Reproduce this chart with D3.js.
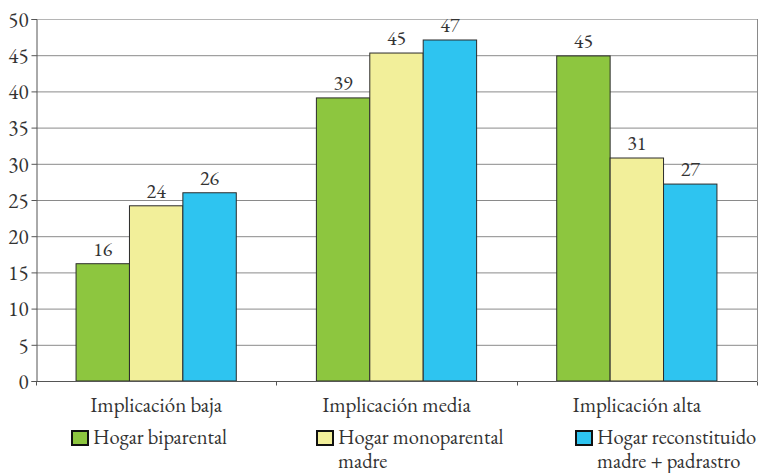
<!DOCTYPE html>
<html>
<head>
<meta charset="utf-8">
<script src="https://cdn.jsdelivr.net/npm/d3@7"></script>
<style>
  html, body { margin: 0; padding: 0; background: #fff; }
</style>
</head>
<body>
<svg id="chart" width="765" height="473"></svg>
<script>
const categories = ["Implicación baja", "Implicación media", "Implicación alta"];
const seriesNames = ["Hogar biparental", "Hogar monoparental madre", "Hogar reconstituido madre + padrastro"];
const legendLines = [["Hogar biparental"], ["Hogar monoparental", "madre"], ["Hogar reconstituido", "madre + padrastro"]];
const biparental = [16.2, 39.1, 44.9];
const monoparental = [24.2, 45.3, 30.8];
const reconstituido = [26.0, 47.1, 27.2];
const valueLabels = [[16, 39, 45], [24, 45, 31], [26, 47, 27]];
const yTicks = [0, 5, 10, 15, 20, 25, 30, 35, 40, 45, 50];
const colors = ["#8dc63f", "#f2ef9a", "#2ec4f0"];

const series = [biparental, monoparental, reconstituido];
const FONT = '"EB Garamond", "Liberation Serif", serif';
const TXT = "#333";

const svg = d3.select("#chart");
const mLeft = 36, mRight = 757, mTop = 19, mBottom = 381;

const x = d3.scaleBand().domain(categories).range([mLeft, mRight]).paddingInner(1/3).paddingOuter(1/6);
const xInner = d3.scaleBand().domain(d3.range(series.length)).range([0, x.bandwidth()]);
const y = d3.scaleLinear().domain([0, 50]).range([mBottom, mTop]);

// gridlines
svg.append("g").selectAll("line").data(yTicks.filter(d => d > 0)).join("line")
  .attr("x1", mLeft).attr("x2", mRight)
  .attr("y1", d => y(d) + 0.5).attr("y2", d => y(d) + 0.5)
  .attr("stroke", d => d === 50 ? "#b5b5b5" : "#8a8a8a").attr("stroke-width", 1);
// right border
svg.append("line").attr("x1", mRight + 0.5).attr("x2", mRight + 0.5).attr("y1", mTop).attr("y2", mBottom)
  .attr("stroke", "#8a8a8a");

// bars
const groups = svg.append("g").selectAll("g").data(categories).join("g")
  .attr("transform", c => `translate(${x(c)},0)`);
groups.each(function(c, ci) {
  const g = d3.select(this);
  series.forEach((s, si) => {
    g.append("rect")
      .attr("x", xInner(si))
      .attr("y", y(s[ci]))
      .attr("width", xInner.bandwidth())
      .attr("height", y(0) - y(s[ci]))
      .attr("fill", colors[si])
      .attr("stroke", "#2b2b2b").attr("stroke-width", 1);
    g.append("text")
      .attr("x", xInner(si) + xInner.bandwidth() / 2)
      .attr("y", y(s[ci]) - 8)
      .attr("text-anchor", "middle")
      .style("font-family", FONT).style("font-size", "20px").style("fill", TXT)
      .text(valueLabels[si][ci]);
  });
});

// y axis
const yAxis = d3.axisLeft(y).tickValues(yTicks).tickSize(5).tickPadding(3);
const ya = svg.append("g").attr("transform", `translate(${mLeft + 0.5},0)`).call(yAxis);
ya.selectAll("text").style("font-family", FONT).style("font-size", "21px").style("fill", TXT).attr("dy", "0.35em");
ya.selectAll("line").attr("stroke", "#555");
ya.select(".domain").attr("stroke", "#555");

// x axis
const xAxis = d3.axisBottom(x).tickSize(0).tickPadding(0).tickFormat("");
const xa = svg.append("g").attr("transform", `translate(0,${mBottom + 0.5})`).call(xAxis);
xa.select(".domain").attr("stroke", "#555").attr("d", `M${mLeft},0H${mRight}`);
// boundary ticks between categories
const bounds = [mLeft, ...categories.slice(1).map(c => x(c) - x.step() * x.paddingInner() / 2), mRight];
xa.selectAll(".bt").data(bounds).join("line").attr("class", "bt")
  .attr("x1", d => Math.round(d) + 0.5).attr("x2", d => Math.round(d) + 0.5)
  .attr("y1", 0).attr("y2", 4).attr("stroke", "#555");

// category labels
svg.append("g").selectAll("text").data(categories).join("text")
  .attr("x", c => x(c) + x.bandwidth() / 2)
  .attr("y", 412)
  .attr("text-anchor", "middle")
  .style("font-family", FONT).style("font-size", "21px").style("fill", TXT)
  .text(c => c);

// legend
const legendX = [71, 316, 575];
const lg = svg.append("g").selectAll("g").data(seriesNames).join("g")
  .attr("transform", (d, i) => `translate(${legendX[i]},430)`);
lg.append("rect").attr("x", 1).attr("y", 1).attr("width", 16).attr("height", 14)
  .attr("fill", (d, i) => colors[i]).attr("stroke", "#111").attr("stroke-width", 2);
lg.each(function(d, i) {
  const t = d3.select(this).append("text").attr("x", 22).attr("y", 14)
    .style("font-family", FONT).style("font-size", "20.5px").style("fill", TXT);
  legendLines[i].forEach((line, li) => {
    t.append("tspan").attr("x", 22).attr("dy", li === 0 ? 0 : 23.5).text(line);
  });
});
</script>
</body>
</html>
